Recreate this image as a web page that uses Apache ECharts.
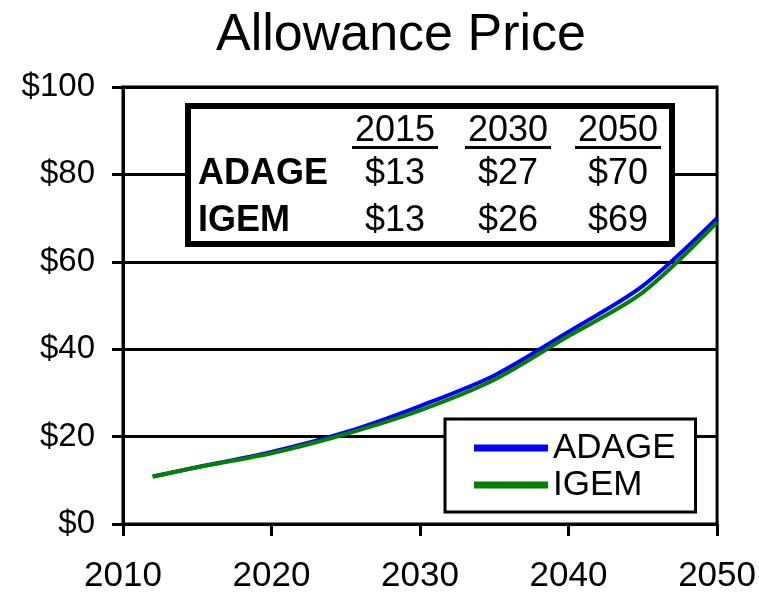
<!DOCTYPE html>
<html lang="en">
<head>
    <meta charset="UTF-8">
    <title>Allowance Price</title>
    <style>
        body{margin:0;background:#fff;}
        #container{width:759px;height:594px;}
    </style>
    <script src="https://cdn.jsdelivr.net/npm/echarts@6/dist/echarts.min.js"></script>
</head>
<body>
<div id="container"></div>
<script type="text/javascript">
    // chart data
    var seriesNames = ['ADAGE', 'IGEM'];
    var adage = [[2012, 10.9], [2015, 13], [2020, 16.5], [2025, 21], [2030, 27], [2035, 34], [2040, 44], [2045, 54.5], [2050, 70]];
    var igem = [[2012, 10.8], [2015, 13], [2020, 16.2], [2025, 20.6], [2030, 26], [2035, 33], [2040, 43], [2045, 53], [2050, 69]];

    // inset table
    var tableYears = ['2015', '2030', '2050'];
    var tableAdage = ['$13', '$27', '$70'];
    var tableIgem = ['$13', '$26', '$69'];

    var font = '"Liberation Sans", Arial, sans-serif';
    var myChart = echarts.init(document.getElementById('container'));

    // build the table graphic
    var colX = [395, 508, 618];
    var table = [{
        type: 'rect',
        shape: {x: 188, y: 106, width: 484, height: 138},
        style: {fill: '#fff', stroke: '#000', lineWidth: 6},
        z: 100
    }];
    function cell(txt, x, y, bold, align) {
        return {
            type: 'text', x: x, y: y, z: 101,
            style: {
                text: txt, fill: '#000', font: (bold ? 'bold ' : '') + '36px ' + font,
                textAlign: align || 'center', textVerticalAlign: 'middle'
            }
        };
    }
    for (var i = 0; i < tableYears.length; i++) {
        table.push(cell(tableYears[i], colX[i], 131, false));
        table.push({
            type: 'rect', z: 101,
            shape: {x: colX[i] - 43, y: 146, width: 86, height: 3},
            style: {fill: '#000'}
        });
        table.push(cell(tableAdage[i], colX[i], 174, false));
        table.push(cell(tableIgem[i], colX[i], 221, false));
    }
    table.push(cell(seriesNames[0], 198, 174, true, 'left'));
    table.push(cell(seriesNames[1], 198, 221, true, 'left'));

    var option = {
        backgroundColor: '#fff',
        animation: false,
        title: {
            text: 'Allowance Price',
            left: 211,
            top: 5,
            textStyle: {fontFamily: font, fontSize: 52, fontWeight: 'normal', color: '#000'}
        },
        legend: {
            data: seriesNames,
            orient: 'vertical',
            left: 445,
            top: 419,
            padding: [11, 20, 9, 29],
            borderColor: '#000',
            borderWidth: 3,
            backgroundColor: '#fff',
            icon: 'rect',
            itemWidth: 74,
            itemHeight: 7,
            itemGap: 1,
            textStyle: {fontFamily: font, fontSize: 35, color: '#000', lineHeight: 36}
        },
        grid: {
            left: 123, right: 41, top: 87, bottom: 64,
            show: true, borderColor: '#000', borderWidth: 3
        },
        xAxis: {
            type: 'value',
            min: 2010, max: 2050, interval: 10,
            axisLine: {lineStyle: {color: '#000', width: 3}},
            axisTick: {length: 12, lineStyle: {color: '#000', width: 3}},
            splitLine: {show: false},
            axisLabel: {
                margin: 35, fontFamily: font, fontSize: 35, color: '#000',
                formatter: function (v) { return String(v); }
            }
        },
        yAxis: {
            type: 'value',
            min: 0, max: 100, interval: 20,
            axisLine: {show: true, lineStyle: {color: '#000', width: 3}},
            axisTick: {show: true, length: 11, lineStyle: {color: '#000', width: 3}},
            splitLine: {lineStyle: {color: '#000', width: 3}},
            axisLabel: {
                margin: 28, fontFamily: font, fontSize: 33, color: '#000',
                formatter: function (v) { return '$' + v; }
            }
        },
        series: [{
            name: seriesNames[0],
            type: 'line',
            data: adage,
            smooth: 0.3,
            showSymbol: false,
            color: '#0000ff',
            lineStyle: {width: 4, color: '#0000ff'}
        }, {
            name: seriesNames[1],
            type: 'line',
            data: igem,
            smooth: 0.3,
            showSymbol: false,
            color: '#008000',
            lineStyle: {width: 4, color: '#008000'}
        }],
        graphic: table
    };

    myChart.setOption(option);
</script>
</body>
</html>
